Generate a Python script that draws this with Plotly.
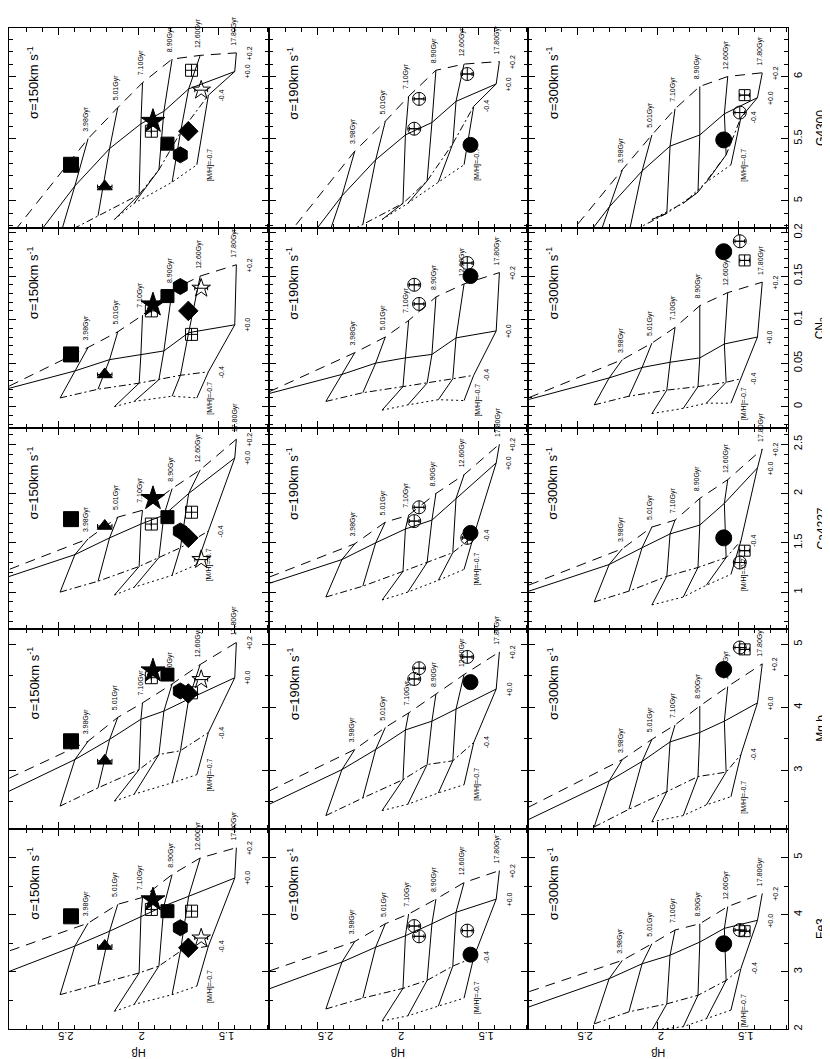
import plotly.graph_objects as go
from plotly.subplots import make_subplots

# ---------------- labels ----------------
SIGMAS = ["150", "190", "300"]
INDEX_NAMES = ["G4300", "CN<sub>2</sub>", "Ca4227", "Mg b", "Fe3"]
AGE_LABELS = ["", "3.98Gyr", "5.01Gyr", "7.10Gyr", "8.90Gyr", "12.60Gyr", "17.80Gyr"]
MH_LABELS = ["[M/H]=-0.7", "-0.4", "+0.0", "+0.2"]

HB_RANGE = [2.806, 1.19]
G4300_RANGE = [4.78, 6.39]
CN2_RANGE = [-0.025, 0.205]
CA_RANGE = [0.63, 2.66]
MGB_RANGE = [2.07, 5.25]
FE3_RANGE = [2.0, 5.5]

# ---------------- model grids ----------------
# rows: [M/H] = -0.7, -0.4, 0.0, +0.2 ; columns: young, 3.98, 5.01, 7.10, 8.90, 12.6, 17.8 Gyr
HB_150 = [
    [None, None, None, 2.150, 2.027, 1.791, 1.637],
    [None, 2.488, 2.252, 1.996, 1.873, 1.739, 1.565],
    [2.95, 2.396, 2.180, 1.985, 1.842, 1.688, 1.401],
    [2.90, 2.314, 2.129, 1.975, 1.791, 1.616, 1.391],
]
HB_190 = [
    [None, None, None, 2.10, 1.94, 1.75, 1.59],
    [None, 2.45, 2.22, 1.97, 1.82, 1.66, 1.53],
    [2.95, 2.35, 2.14, 1.955, 1.79, 1.64, 1.39],
    [2.90, 2.27, 2.08, 1.935, 1.765, 1.59, 1.37],
]
HB_300 = [
    [None, None, None, 2.037, 1.842, 1.698, 1.545],
    [None, 2.396, 2.180, 1.944, 1.750, 1.575, 1.483],
    [2.95, 2.303, 2.098, 1.924, 1.739, 1.586, 1.380],
    [2.90, 2.221, 2.037, 1.893, 1.739, 1.565, 1.350],
]

G4300_150 = [
    [None, None, None, 4.85, 4.98, 5.15, 5.29],
    [None, 4.72, 4.88, 5.05, 5.25, 5.55, 5.85],
    [4.18, 5.12, 5.42, 5.62, 5.72, 5.90, 6.04],
    [4.55, 5.50, 5.75, 5.95, 6.14, 6.17, 6.19],
]
G4300_190 = [
    [None, None, None, 4.85, 4.98, 5.15, 5.29],
    [None, 4.66, 4.81, 4.98, 5.16, 5.46, 5.76],
    [4.03, 5.04, 5.33, 5.53, 5.63, 5.80, 5.94],
    [4.38, 5.40, 5.64, 5.84, 6.05, 6.10, 6.12],
]
G4300_300 = [
    [None, None, None, 4.85, 4.98, 5.15, 5.29],
    [None, 4.60, 4.74, 4.90, 5.07, 5.37, 5.67],
    [3.86, 4.95, 5.24, 5.44, 5.53, 5.70, 5.83],
    [4.18, 5.25, 5.53, 5.74, 5.92, 6.00, 6.03],
]

CN2_150 = [
    [None, None, None, 0.000, 0.006, 0.012, 0.010],
    [None, 0.010, 0.020, 0.027, 0.031, 0.036, 0.040],
    [0.014, 0.041, 0.054, 0.060, 0.064, 0.085, 0.094],
    [0.015, 0.068, 0.086, 0.105, 0.134, 0.150, 0.163],
]
CN2_190 = [
    [None, None, None, -0.004, 0.002, 0.008, 0.007],
    [None, 0.006, 0.016, 0.023, 0.027, 0.032, 0.036],
    [0.008, 0.037, 0.050, 0.056, 0.060, 0.079, 0.087],
    [0.009, 0.062, 0.080, 0.099, 0.126, 0.141, 0.154],
]
CN2_300 = [
    [None, None, None, -0.008, -0.002, 0.004, 0.004],
    [None, 0.002, 0.012, 0.019, 0.023, 0.028, 0.032],
    [0.001, 0.033, 0.045, 0.051, 0.056, 0.072, 0.080],
    [0.003, 0.054, 0.073, 0.091, 0.116, 0.131, 0.143],
]

CA_150 = [
    [None, None, None, 0.97, 1.05, 1.17, 1.28],
    [None, 1.00, 1.11, 1.26, 1.35, 1.45, 1.62],
    [1.08, 1.38, 1.55, 1.69, 1.78, 2.00, 2.36],
    [1.17, 1.54, 1.76, 1.83, 2.05, 2.24, 2.55],
]
CA_190 = [
    [None, None, None, 0.92, 1.00, 1.12, 1.23],
    [None, 0.95, 1.06, 1.21, 1.30, 1.40, 1.57],
    [1.01, 1.33, 1.50, 1.64, 1.73, 1.95, 2.31],
    [1.09, 1.49, 1.71, 1.78, 2.00, 2.19, 2.50],
]
CA_300 = [
    [None, None, None, 0.87, 0.95, 1.07, 1.18],
    [None, 0.90, 1.01, 1.16, 1.25, 1.35, 1.52],
    [0.93, 1.28, 1.45, 1.59, 1.68, 1.90, 2.26],
    [1.01, 1.44, 1.66, 1.73, 1.95, 2.14, 2.45],
]

MGB_150 = [
    [None, None, None, 2.51, 2.62, 2.80, 2.93],
    [None, 2.43, 2.72, 3.01, 3.25, 3.31, 3.60],
    [2.49, 3.17, 3.49, 3.81, 3.94, 4.13, 4.47],
    [2.76, 3.46, 3.84, 4.07, 4.37, 4.68, 5.03],
]
MGB_190 = [
    [None, None, None, 2.36, 2.46, 2.64, 2.77],
    [None, 2.28, 2.56, 2.85, 3.09, 3.15, 3.44],
    [2.28, 3.01, 3.33, 3.64, 3.78, 3.97, 4.29],
    [2.55, 3.33, 3.68, 3.91, 4.21, 4.52, 4.88],
]
MGB_300 = [
    [None, None, None, 2.18, 2.28, 2.45, 2.58],
    [None, 2.10, 2.38, 2.66, 2.90, 2.97, 3.25],
    [2.04, 2.83, 3.14, 3.45, 3.60, 3.78, 4.07],
    [2.29, 3.17, 3.49, 3.72, 4.02, 4.33, 4.69],
]

FE3_150 = [
    [None, None, None, 2.31, 2.43, 2.60, 2.75],
    [None, 2.60, 2.78, 2.98, 3.10, 3.36, 3.45],
    [2.85, 3.45, 3.71, 3.97, 4.15, 4.32, 4.64],
    [3.27, 3.85, 4.18, 4.30, 4.70, 4.99, 5.17],
]
FE3_190 = [
    [None, None, None, 2.14, 2.23, 2.40, 2.54],
    [None, 2.35, 2.54, 2.71, 2.85, 3.10, 3.25],
    [2.55, 3.17, 3.43, 3.63, 3.84, 4.04, 4.27],
    [2.92, 3.53, 3.84, 4.01, 4.27, 4.56, 4.77],
]
FE3_300 = [
    [None, None, None, 1.98, 2.04, 2.18, 2.33],
    [None, 2.09, 2.30, 2.44, 2.59, 2.85, 3.06],
    [2.24, 2.88, 3.14, 3.29, 3.52, 3.76, 3.90],
    [2.56, 3.20, 3.49, 3.73, 3.84, 4.14, 4.37],
]

# ---------------- observed galaxies ----------------
HB_OBJ_150 = [2.42, 2.21, 1.91, 1.92, 1.82, 1.74, 1.69, 1.67, 1.61]
HB_ERR_150 = [0.0, 0.045, 0.0, 0.0, 0.0, 0.0, 0.0, 0.0, 0.04]
G4300_OBJ_150 = [5.29, 5.115, 5.64, 5.56, 5.46, 5.37, 5.56, 6.05, 5.89]
CN2_OBJ_150 = [0.060, 0.037, 0.117, 0.110, 0.127, 0.138, 0.110, 0.083, 0.136]
CA_OBJ_150 = [1.74, 1.67, 1.95, 1.69, 1.76, 1.62, 1.55, 1.81, 1.33]
MGB_OBJ_150 = [3.46, 3.15, 4.58, 4.47, 4.52, 4.26, 4.22, 4.23, 4.44]
FE3_OBJ_150 = [3.97, 3.45, 4.26, 4.09, 4.06, 3.77, 3.42, 4.06, 3.59]

HB_OBJ_190 = [1.90, 1.87, 1.57, 1.55]
HB_ERR_190 = [0.03, 0.03, 0.03, 0.0]
G4300_OBJ_190 = [5.58, 5.82, 6.02, 5.45]
CN2_OBJ_190 = [0.140, 0.118, 0.165, 0.150]
CA_OBJ_190 = [1.72, 1.86, 1.55, 1.60]
MGB_OBJ_190 = [4.45, 4.62, 4.80, 4.40]
FE3_OBJ_190 = [3.80, 3.62, 3.72, 3.30]

HB_OBJ_300 = [1.59, 1.49, 1.46]
HB_ERR_300 = [0.0, 0.03, 0.03]
G4300_OBJ_300 = [5.49, 5.71, 5.85]
CN2_OBJ_300 = [0.178, 0.190, 0.168]
CA_OBJ_300 = [1.55, 1.30, 1.42]
MGB_OBJ_300 = [4.60, 4.95, 4.92]
FE3_OBJ_300 = [3.49, 3.73, 3.71]

# ---------------- assemble ----------------
HB_GRIDS = [HB_150, HB_190, HB_300]
IDX_GRIDS = [
    [G4300_150, CN2_150, CA_150, MGB_150, FE3_150],
    [G4300_190, CN2_190, CA_190, MGB_190, FE3_190],
    [G4300_300, CN2_300, CA_300, MGB_300, FE3_300],
]
Y_RANGES = [G4300_RANGE, CN2_RANGE, CA_RANGE, MGB_RANGE, FE3_RANGE]
Y_DTICK = [0.5, 0.05, 0.5, 1.0, 1.0]
Y_MINOR = [0.1, 0.01, 0.1, 0.5, 0.5]
OBJ_HB = [HB_OBJ_150, HB_OBJ_190, HB_OBJ_300]
OBJ_ERR = [HB_ERR_150, HB_ERR_190, HB_ERR_300]
OBJ_IDX = [
    [G4300_OBJ_150, CN2_OBJ_150, CA_OBJ_150, MGB_OBJ_150, FE3_OBJ_150],
    [G4300_OBJ_190, CN2_OBJ_190, CA_OBJ_190, MGB_OBJ_190, FE3_OBJ_190],
    [G4300_OBJ_300, CN2_OBJ_300, CA_OBJ_300, MGB_OBJ_300, FE3_OBJ_300],
]
OBJ_SYMBOLS = [
    ["square", "triangle-up", "star", "square-cross-open", "square", "hexagon",
     "diamond", "square-cross-open", "star-open"],
    ["circle-cross-open", "circle-cross-open", "circle-cross-open", "circle"],
    ["circle", "circle-cross-open", "square-cross-open"],
]
OBJ_SIZES = [
    [15, 13, 18, 12, 13, 16, 15, 12, 14],
    [13, 13, 13, 15],
    [16, 13, 11],
]
MH_DASH = ["2px,3px", "7px,3px,2px,3px", "solid", "10px,7px"]

W, H = 830, 1059
ML, MR, MT, MB = 1, 50, 20, 38
PW, PH = W - ML - MR, H - MT - MB

fig = make_subplots(rows=5, cols=3, horizontal_spacing=0, vertical_spacing=0)

annotations = []
FONT = "Liberation Sans"


def px_to_paper(X, Y):
    return (X - ML) / PW, (H - MB - Y) / PH


for c in range(3):
    hb = HB_GRIDS[c]
    for r in range(5):
        idx = IDX_GRIDS[c][r]
        n = r * 3 + c + 1
        xref = "x" if n == 1 else f"x{n}"
        yref = "y" if n == 1 else f"y{n}"
        # metallicity tracks
        for z in range(4):
            xs = [hb[z][j] for j in range(7) if hb[z][j] is not None]
            ys = [idx[z][j] for j in range(7) if hb[z][j] is not None]
            fig.add_trace(go.Scatter(x=xs, y=ys, mode="lines",
                                     line=dict(color="black", width=1, dash=MH_DASH[z]),
                                     hoverinfo="skip", showlegend=False), row=r + 1, col=c + 1)
        # isochrones
        for j in range(1, 7):
            xs = [hb[z][j] for z in range(4) if hb[z][j] is not None]
            ys = [idx[z][j] for z in range(4) if hb[z][j] is not None]
            fig.add_trace(go.Scatter(x=xs, y=ys, mode="lines",
                                     line=dict(color="black", width=1),
                                     hoverinfo="skip", showlegend=False), row=r + 1, col=c + 1)
            annotations.append(dict(x=hb[3][j], y=idx[3][j], xref=xref, yref=yref,
                                    text=AGE_LABELS[j], showarrow=False, textangle=-90,
                                    xanchor="center", yanchor="bottom", yshift=5, xshift=-2,
                                    font=dict(size=7, color="black", family=FONT)))
        for z in range(4):
            annotations.append(dict(x=hb[z][6], y=idx[z][6], xref=xref, yref=yref,
                                    text=MH_LABELS[z], showarrow=False, textangle=-90,
                                    xanchor="center", yanchor="middle", xshift=13,
                                    font=dict(size=7, color="black", family=FONT)))
        # galaxies
        fig.add_trace(go.Scatter(
            x=OBJ_HB[c], y=OBJ_IDX[c][r], mode="markers",
            marker=dict(symbol=OBJ_SYMBOLS[c], size=OBJ_SIZES[c], color="black",
                        opacity=1, line=dict(color="black", width=1)),
            error_x=dict(type="data", array=OBJ_ERR[c], visible=True, color="black",
                         thickness=1, width=2),
            hoverinfo="skip", showlegend=False), row=r + 1, col=c + 1)
        # sigma label
        sx, sy = px_to_paper(ML + PW * c / 3 + 24, MT + PH * r / 5 + 55)
        annotations.append(dict(x=sx, y=sy, xref="paper", yref="paper",
                                text=f"σ={SIGMAS[c]}km s<sup>-1</sup>", showarrow=False,
                                textangle=-90, xanchor="center", yanchor="middle",
                                font=dict(size=13, color="black", family=FONT)))

        fig.update_xaxes(range=HB_RANGE, showgrid=False, zeroline=False,
                         showline=True, linecolor="black", linewidth=1, mirror="ticks",
                         ticks="inside", ticklen=7, tickwidth=1, tickcolor="black",
                         tick0=0, dtick=0.5,
                         minor=dict(dtick=0.1, ticklen=4, ticks="inside", tickcolor="black",
                                    showgrid=False),
                         showticklabels=(r == 4), tickangle=180,
                         tickfont=dict(size=11, color="black", family=FONT),
                         row=r + 1, col=c + 1)
        fig.update_yaxes(range=Y_RANGES[r], showgrid=False, zeroline=False,
                         showline=True, linecolor="black", linewidth=1, mirror="ticks",
                         ticks="inside", ticklen=7, tickwidth=1, tickcolor="black",
                         tick0=0, dtick=Y_DTICK[r],
                         minor=dict(dtick=Y_MINOR[r], ticklen=4, ticks="inside",
                                    tickcolor="black", showgrid=False),
                         side="right", showticklabels=(c == 2), tickangle=-90,
                         tickfont=dict(size=11, color="black", family=FONT),
                         row=r + 1, col=c + 1)

# axis titles
for r in range(5):
    tx, ty = px_to_paper(813, MT + PH * (r + 0.5) / 5)
    annotations.append(dict(x=tx, y=ty, xref="paper", yref="paper", text=INDEX_NAMES[r],
                            showarrow=False, textangle=-90, xanchor="center", yanchor="middle",
                            font=dict(size=12, color="black", family=FONT)))
for c in range(3):
    tx, ty = px_to_paper(ML + PW * (c + 0.5) / 3, 1045)
    annotations.append(dict(x=tx, y=ty, xref="paper", yref="paper", text="Hβ",
                            showarrow=False, textangle=180, xanchor="center", yanchor="middle",
                            font=dict(size=11, color="black", family=FONT)))

fig.update_layout(width=W, height=H, margin=dict(l=ML, r=MR, t=MT, b=MB),
                  paper_bgcolor="white", plot_bgcolor="white",
                  annotations=annotations, showlegend=False)

fig.write_html("out.html")
